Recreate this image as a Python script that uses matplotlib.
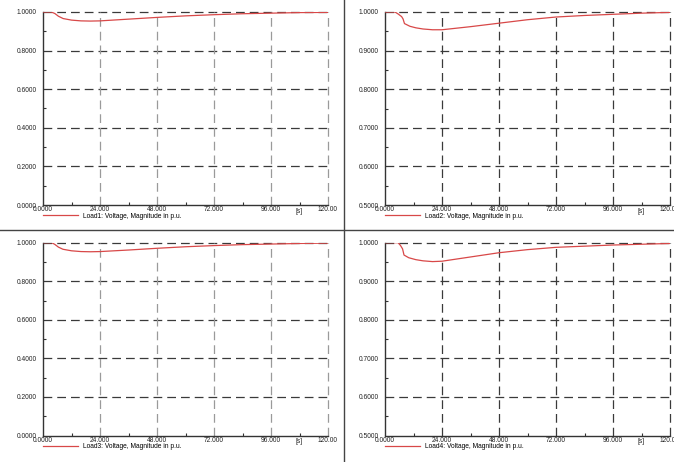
import numpy as np
import matplotlib
matplotlib.use('Agg')
import matplotlib.pyplot as plt
from matplotlib.lines import Line2D
from matplotlib.ticker import MultipleLocator

plt.rcParams['font.family'] = ['Liberation Sans', 'DejaVu Sans']

# Data (time in s, voltage in p.u.)
t_load1 = [0, 3.5, 5, 6.5, 8.5, 12, 16, 20, 24, 36, 48, 60, 72, 84, 96, 108, 120]
v_load1 = [1.0, 1.0, 0.992, 0.978, 0.966, 0.958, 0.954, 0.953, 0.954, 0.963,
           0.972, 0.980, 0.986, 0.991, 0.994, 0.997, 0.998]

t_load2 = [0, 4.2, 5.5, 7, 7.6, 8.2, 10.5, 13, 16, 20, 24, 36, 48, 60, 72, 84, 96, 108, 120]
v_load2 = [1.0, 1.0, 0.995, 0.988, 0.982, 0.970, 0.963, 0.959, 0.956, 0.954, 0.954,
           0.962, 0.971, 0.980, 0.987, 0.991, 0.994, 0.997, 0.999]

t_load3 = [0, 3.7, 5, 6.5, 8.4, 12, 16, 20, 24, 36, 48, 60, 72, 84, 96, 108, 120]
v_load3 = [1.0, 1.0, 0.991, 0.977, 0.966, 0.958, 0.954, 0.953, 0.954, 0.962,
           0.971, 0.979, 0.985, 0.990, 0.993, 0.996, 0.998]

t_load4 = [0, 5.5, 6.5, 7.4, 8, 10, 13, 16, 20, 24, 36, 48, 60, 72, 84, 96, 108, 120]
v_load4 = [1.0, 1.0, 0.993, 0.984, 0.968, 0.961, 0.956, 0.953, 0.951, 0.952,
           0.963, 0.974, 0.982, 0.988, 0.991, 0.994, 0.996, 0.998]

labels = ['Load1: Voltage, Magnitude in p.u.', 'Load2: Voltage, Magnitude in p.u.',
          'Load3: Voltage, Magnitude in p.u.', 'Load4: Voltage, Magnitude in p.u.']

x_ticks = [0, 24, 48, 72, 96, 120]
x_ticklabels = ['0.0000', '24.000', '48.000', '72.000', '96.000', '120.00']

W, H = 674, 462
fig = plt.figure(figsize=(W / 100, H / 100), dpi=100)
fig.patch.set_facecolor('white')


def px_axes(x0, x1, ytop, ybot):
    return fig.add_axes([x0 / W, 1 - ybot / H, (x1 - x0) / W, (ybot - ytop) / H])


panels = [
    (px_axes(43, 328, 12, 205), t_load1, v_load1, labels[0], (0.0, 1.0), 0.2, '#9a9a9a'),
    (px_axes(385, 670, 12, 205), t_load2, v_load2, labels[1], (0.5, 1.0), 0.1, '#3a3a3a'),
    (px_axes(43, 328, 242.7, 435.5), t_load3, v_load3, labels[2], (0.0, 1.0), 0.2, '#9a9a9a'),
    (px_axes(385, 670, 242.7, 435.5), t_load4, v_load4, labels[3], (0.5, 1.0), 0.1, '#3a3a3a'),
]

dash = (0, (7, 4))
for ax, t, v, lab, ylim, ystep, vgrid in panels:
    ax.plot(t, v, color='#d84848', lw=0.9, label=lab, zorder=3)
    ax.set_xlim(0, 120)
    ax.set_ylim(*ylim)
    ax.set_facecolor('white')
    for s in ['top', 'right']:
        ax.spines[s].set_visible(False)
    for s in ['left', 'bottom']:
        ax.spines[s].set_color('#333333')
        ax.spines[s].set_linewidth(1.0)

    yt = np.round(np.arange(ylim[0], ylim[1] + 1e-9, ystep), 4)
    ax.set_yticks(yt)
    ax.set_yticklabels([f'{y:.4f}' for y in yt])
    ax.yaxis.set_minor_locator(MultipleLocator(ystep / 2))
    ax.set_xticks(x_ticks)
    ax.set_xticklabels(x_ticklabels)
    ax.xaxis.set_minor_locator(MultipleLocator(12))

    ax.tick_params(which='major', direction='in', length=0, labelsize=4.8,
                   labelcolor='#222222')
    ax.tick_params(axis='y', which='major', pad=4.5)
    ax.tick_params(axis='x', which='major', pad=1.0)
    ax.tick_params(which='minor', direction='in', length=2.5, width=0.8,
                   color='#333333')
    ax.get_xticklabels()[0].set_x(2)

    for y in yt[1:]:
        ax.axhline(y, color='#3a3a3a', lw=0.9, ls=dash, zorder=1, clip_on=False)
    for x in x_ticks[1:]:
        ax.axvline(x, color=vgrid, lw=0.9, ls=dash, zorder=1, clip_on=False)

    ax.text(108, -0.013, '[s]', transform=ax.get_xaxis_transform(),
            ha='center', va='top', fontsize=4.8, color='#222222')

    ax.legend(loc='center left', bbox_to_anchor=(0, -11 / 193), frameon=False,
              fontsize=4.8, handlelength=5.2, handletextpad=0.8,
              borderpad=0, borderaxespad=0)

# panel divider lines
fig.add_artist(Line2D([343.5 / W, 343.5 / W], [0, 1], transform=fig.transFigure,
                      color='#444444', lw=1.0))
fig.add_artist(Line2D([0, 1], [1 - 230 / H, 1 - 230 / H], transform=fig.transFigure,
                      color='#444444', lw=1.0))

fig.savefig('out.png', dpi=100)
